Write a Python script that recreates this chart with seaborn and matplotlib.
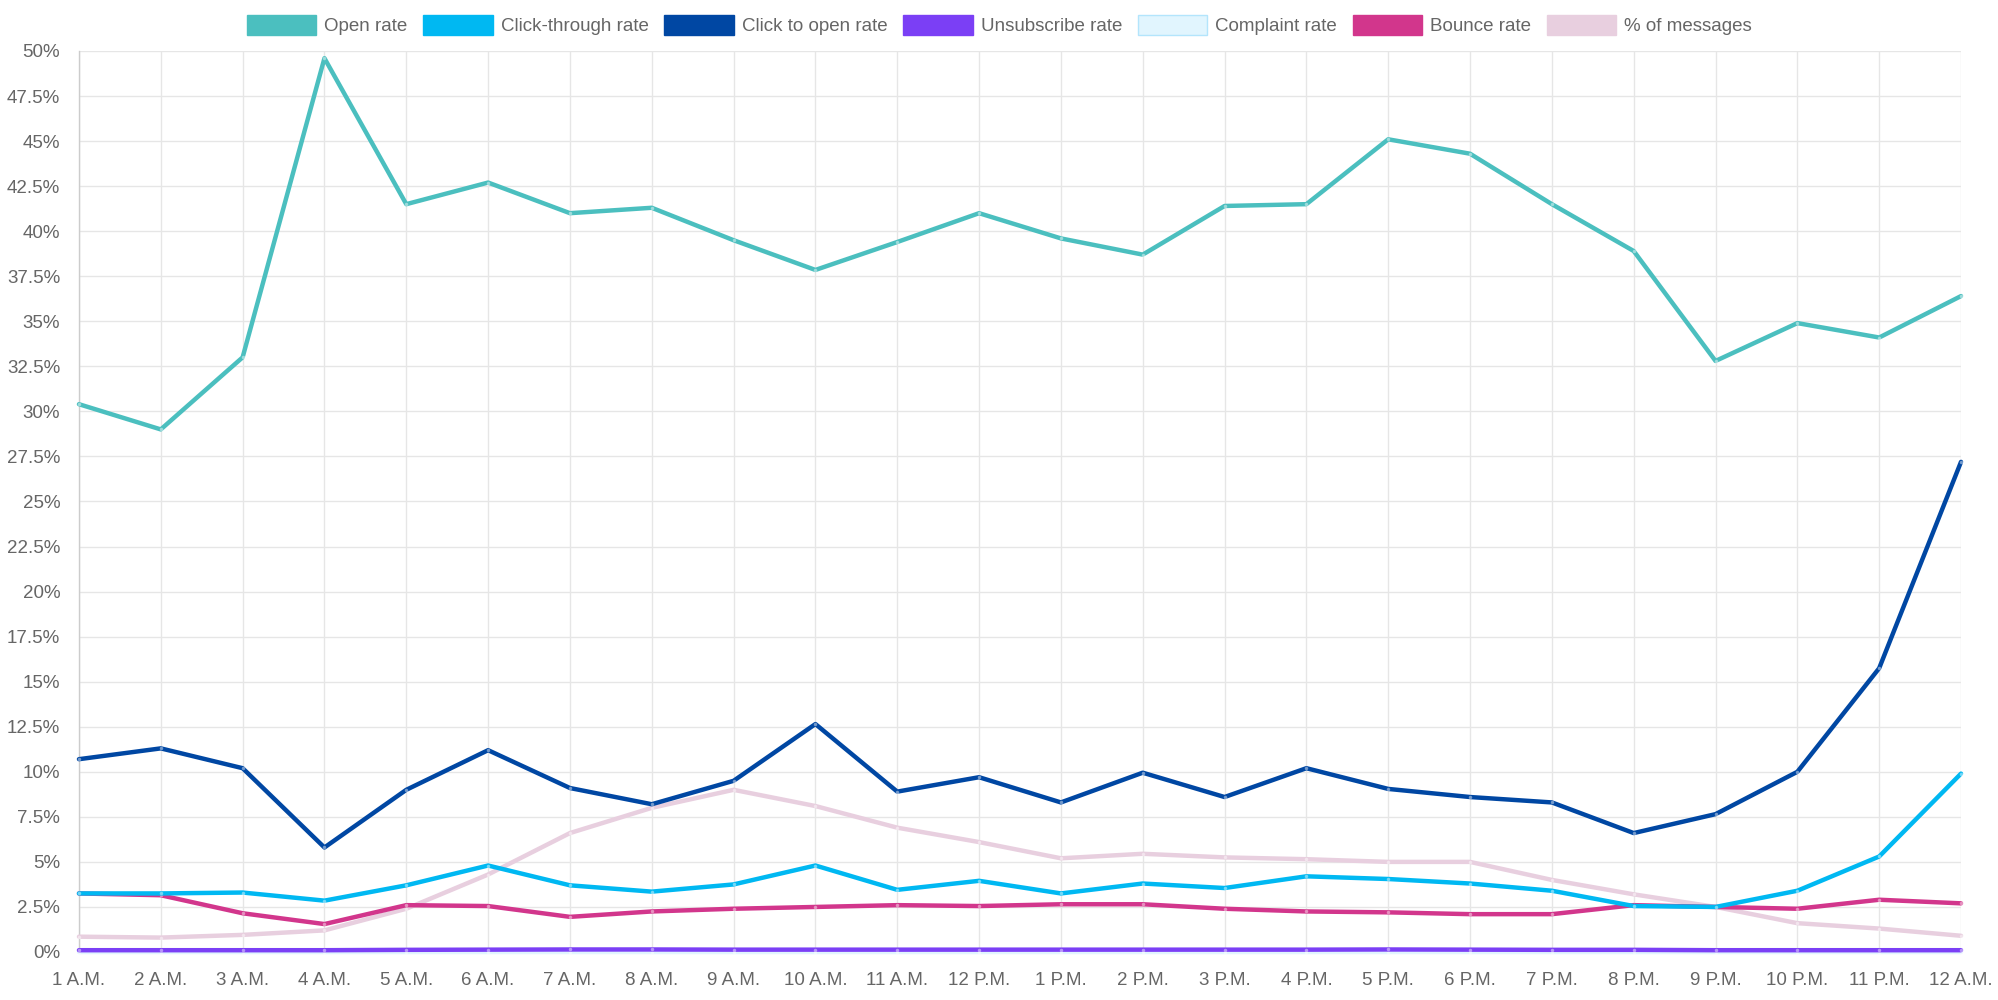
import pandas as pd
import numpy as np
import matplotlib
matplotlib.use('Agg')
import matplotlib.pyplot as plt
import matplotlib.patches as mpatches
from matplotlib.ticker import FuncFormatter, MultipleLocator
import seaborn as sns

hours = ['1 A.M.', '2 A.M.', '3 A.M.', '4 A.M.', '5 A.M.', '6 A.M.', '7 A.M.', '8 A.M.',
         '9 A.M.', '10 A.M.', '11 A.M.', '12 P.M.', '1 P.M.', '2 P.M.', '3 P.M.', '4 P.M.',
         '5 P.M.', '6 P.M.', '7 P.M.', '8 P.M.', '9 P.M.', '10 P.M.', '11 P.M.', '12 A.M.']

open_rate = [30.4, 29.0, 33.0, 49.6, 41.5, 42.7, 41.0, 41.3, 39.5, 37.85, 39.4, 41.0,
             39.6, 38.7, 41.4, 41.5, 45.1, 44.3, 41.5, 38.9, 32.8, 34.9, 34.1, 36.4]
click_through = [3.25, 3.25, 3.3, 2.85, 3.7, 4.8, 3.7, 3.35, 3.75, 4.8, 3.45, 3.95,
                 3.25, 3.8, 3.55, 4.2, 4.05, 3.8, 3.4, 2.55, 2.5, 3.4, 5.3, 9.9]
click_to_open = [10.7, 11.3, 10.2, 5.8, 9.0, 11.2, 9.1, 8.2, 9.5, 12.65, 8.9, 9.7,
                 8.3, 9.95, 8.6, 10.2, 9.05, 8.6, 8.3, 6.6, 7.65, 10.0, 15.75, 27.2]
unsubscribe = [0.1, 0.1, 0.1, 0.1, 0.12, 0.13, 0.14, 0.14, 0.13, 0.13, 0.13, 0.13,
               0.13, 0.13, 0.13, 0.13, 0.14, 0.13, 0.12, 0.12, 0.1, 0.1, 0.1, 0.1]
complaint = [0.0, 0.0, 0.0, 0.0, 0.0, 0.0, 0.0, 0.0, 0.0, 0.0, 0.0, 0.0,
             0.0, 0.0, 0.0, 0.0, 0.0, 0.0, 0.0, 0.0, 0.0, 0.0, 0.0, 0.0]
bounce = [3.25, 3.15, 2.15, 1.55, 2.6, 2.55, 1.95, 2.25, 2.4, 2.5, 2.6, 2.55,
          2.65, 2.65, 2.4, 2.25, 2.2, 2.1, 2.1, 2.6, 2.5, 2.4, 2.9, 2.7]
pct_messages = [0.85, 0.8, 0.95, 1.2, 2.4, 4.3, 6.6, 8.0, 9.0, 8.1, 6.9, 6.1,
                5.2, 5.45, 5.25, 5.15, 5.0, 5.0, 4.0, 3.2, 2.5, 1.6, 1.3, 0.9]

series_names = ['Open rate', 'Click-through rate', 'Click to open rate', 'Unsubscribe rate',
                'Complaint rate', 'Bounce rate', '% of messages']
series_values = [open_rate, click_through, click_to_open, unsubscribe, complaint, bounce, pct_messages]
colors = ['#4bbfbf', '#00b8f2', '#0047a3', '#7b3ff5', '#e1f5fe', '#d2368c', '#e8cfdf']
edge_colors = ['#4bbfbf', '#00b8f2', '#0047a3', '#7b3ff5', '#b3e5fc', '#d2368c', '#e8cfdf']

df = pd.DataFrame({'hour': np.arange(len(hours))})
for name, vals in zip(series_names, series_values):
    df[name] = vals

sns.set_style('white')
plt.rcParams['font.family'] = ['Liberation Sans', 'DejaVu Sans']

fig = plt.figure(figsize=(19.99, 10), dpi=100)
ax = fig.add_axes([0.0395, 0.048, 0.9415, 0.901])

# first dataset on top, like chart.js
n = len(series_names)
for i, (name, col) in enumerate(zip(series_names, colors)):
    sns.lineplot(data=df, x='hour', y=name, color=col, lw=3.2, ax=ax,
                 marker='o', markersize=2.5, markerfacecolor=(1, 1, 1, 0.45),
                 markeredgewidth=0, zorder=10 + n - i, clip_on=False, legend=False)

ax.set_xlim(0, len(hours) - 1)
ax.set_ylim(0, 50)
ax.yaxis.set_major_locator(MultipleLocator(2.5))
ax.yaxis.set_major_formatter(FuncFormatter(lambda v, p: ('%g' % v) + '%'))
ax.set_xticks(np.arange(len(hours)))
ax.set_xticklabels(hours)
ax.set_xlabel('')
ax.set_ylabel('')

ax.grid(True, color='#e6e6e6', lw=1)
ax.set_axisbelow(True)
ax.tick_params(axis='both', which='both', length=8.5, width=1, color='#e6e6e6',
               labelcolor='#666666', labelsize=13.5, direction='out')
ax.tick_params(axis='y', pad=5)
ax.tick_params(axis='x', pad=6)
for s in ['top', 'right', 'bottom']:
    ax.spines[s].set_visible(False)
ax.spines['left'].set_color('#cccccc')
ax.spines['left'].set_linewidth(1)

handles = [mpatches.Patch(facecolor=c, edgecolor=e, lw=1, label=nm)
           for nm, c, e in zip(series_names, colors, edge_colors)]
fig.legend(handles=handles, loc='center', bbox_to_anchor=(0.5, 0.975), ncol=n,
           frameon=False, fontsize=13.5, handlelength=3.7, handleheight=1.28,
           handletextpad=0.42, columnspacing=0.85, labelcolor='#666666')

plt.savefig('out.png', dpi=100)
